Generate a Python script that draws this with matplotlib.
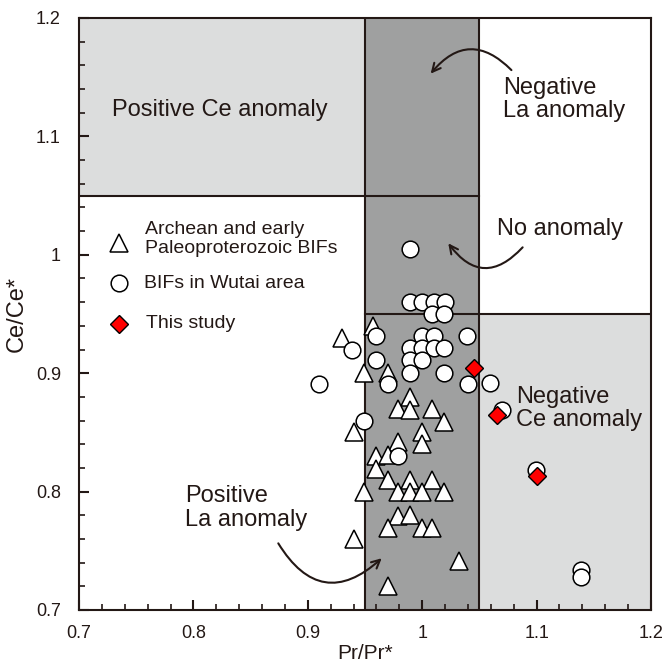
import matplotlib
matplotlib.use("Agg")
import matplotlib.pyplot as plt
from matplotlib.ticker import MultipleLocator

plt.rcParams['font.family'] = ['Liberation Sans', 'DejaVu Sans']

# ---- data ----
tri_x = [0.930, 0.957, 0.949, 0.970, 0.940, 0.940, 0.989, 0.979, 0.989, 1.009,
         1.019, 1.000, 0.979, 1.000, 0.960, 0.970, 0.960, 0.970, 0.989, 1.009,
         0.949, 0.979, 0.989, 1.000, 1.019, 0.979, 0.989, 0.970, 1.000, 1.009,
         1.0325, 0.970]
tri_y = [0.930, 0.940, 0.900, 0.900, 0.850, 0.760, 0.880, 0.870, 0.869, 0.870,
         0.859, 0.850, 0.842, 0.840, 0.830, 0.831, 0.819, 0.810, 0.810, 0.810,
         0.800, 0.800, 0.800, 0.800, 0.800, 0.779, 0.780, 0.769, 0.769, 0.769,
         0.741, 0.720]

circ_x = [0.910, 0.939, 0.960, 0.960, 0.970, 0.949, 0.979, 0.989, 0.989, 1.000,
          1.010, 1.020, 1.009, 1.019, 1.000, 1.010, 0.989, 1.000, 1.010, 1.019,
          0.989, 1.000, 0.989, 1.019, 1.039, 1.040, 1.059, 1.0695, 1.0995, 1.139,
          1.139]
circ_y = [0.891, 0.920, 0.931, 0.911, 0.891, 0.860, 0.830, 1.005, 0.960, 0.960,
          0.960, 0.960, 0.950, 0.950, 0.931, 0.931, 0.921, 0.921, 0.921, 0.921,
          0.911, 0.911, 0.900, 0.900, 0.931, 0.891, 0.892, 0.869, 0.818, 0.734,
          0.728]

dia_x = [1.045, 1.065, 1.100]
dia_y = [0.904, 0.865, 0.813]

legend_labels = ["Archean and early\nPaleoproterozoic BIFs", "BIFs in Wutai area", "This study"]

TXT = '#231815'
LIGHT = '#dcdddd'
DARK = '#9fa0a0'

fig = plt.figure(figsize=(6.66, 6.68), dpi=100)
ax = fig.add_axes([79/666, 58/668, 572/666, 592/668])
ax.set_xlim(0.7, 1.2)
ax.set_ylim(0.7, 1.2)

# regions
ax.fill_between([0.7, 0.95], 1.05, 1.2, color=LIGHT, lw=0, zorder=0)
ax.fill_between([0.95, 1.05], 0.7, 1.2, color=DARK, lw=0, zorder=0)
ax.fill_between([1.05, 1.2], 0.7, 0.95, color=LIGHT, lw=0, zorder=0)
lkw = dict(color=TXT, lw=1.5, zorder=1)
ax.plot([0.7, 1.05], [1.05, 1.05], **lkw)
ax.plot([0.95, 1.2], [0.95, 0.95], **lkw)
ax.plot([0.95, 0.95], [0.7, 1.2], **lkw)
ax.plot([1.05, 1.05], [0.7, 1.2], **lkw)

mk = dict(linestyle='none', markerfacecolor='white', markeredgecolor='black', markeredgewidth=1.1)
ax.plot(tri_x, tri_y, marker='^', markersize=13, zorder=3, **mk)
ax.plot(circ_x, circ_y, marker='o', markersize=12, zorder=4, **mk)
ax.plot(dia_x, dia_y, marker='D', markersize=9, linestyle='none', markerfacecolor='#ff0000',
        markeredgecolor='black', markeredgewidth=1.0, zorder=5)

# legend (manual)
ax.plot([0.735], [1.010], marker='^', markersize=13, zorder=3, **mk)
ax.plot([0.735], [0.976], marker='o', markersize=12, zorder=3, **mk)
ax.plot([0.735], [0.9416], marker='D', markersize=9, linestyle='none', markerfacecolor='#ff0000',
        markeredgecolor='black', markeredgewidth=1.0, zorder=3)
lfs = 14
ax.text(0.758, 1.0135, legend_labels[0], fontsize=lfs, color=TXT, va='center', ha='left', linespacing=1.15)
ax.text(0.757, 0.976, legend_labels[1], fontsize=lfs, color=TXT, va='center', ha='left')
ax.text(0.759, 0.9416, legend_labels[2], fontsize=lfs, color=TXT, va='center', ha='left')

# region labels
fs = 17
ax.text(0.8235, 1.122, "Positive Ce anomaly", fontsize=fs, color=TXT, ha='center', va='center')
ax.text(1.0706, 1.131, "Negative\nLa anomaly", fontsize=fs, color=TXT, ha='left', va='center', linespacing=1.08)
ax.text(1.065, 1.022, "No anomaly", fontsize=fs, color=TXT, ha='left', va='center')
ax.text(1.082, 0.870, "Negative\nCe anomaly", fontsize=fs, color=TXT, ha='left', va='center', linespacing=1.08)
ax.text(0.793, 0.786, "Positive\nLa anomaly", fontsize=fs, color=TXT, ha='left', va='center', linespacing=1.08)

# curved arrows
akw = dict(arrowstyle='->,head_length=0.6,head_width=0.3', color=TXT, lw=1.5, shrinkA=0, shrinkB=0)
ax.annotate("", xy=(1.0074, 1.153), xytext=(1.078, 1.156),
            arrowprops=dict(connectionstyle='arc3,rad=0.55', **akw))
ax.annotate("", xy=(1.0228, 1.0097), xytext=(1.0878, 1.0063),
            arrowprops=dict(connectionstyle='arc3,rad=-0.6', **akw))
ax.annotate("", xy=(0.9646, 0.7437), xytext=(0.8742, 0.7563),
            arrowprops=dict(connectionstyle='arc3,rad=0.6', **akw))

# axes styling
for s in ax.spines.values():
    s.set_color(TXT)
    s.set_linewidth(1.5)
    s.set_zorder(6)
ax.xaxis.set_minor_locator(MultipleLocator(0.02))
ax.yaxis.set_minor_locator(MultipleLocator(0.02))
ax.set_xticks([0.7, 0.8, 0.9, 1.0, 1.1, 1.2])
ax.set_xticklabels(["0.7", "0.8", "0.9", "1", "1.1", "1.2"])
ax.set_yticks([0.7, 0.8, 0.9, 1.0, 1.1, 1.2])
ax.set_yticklabels(["0.7", "0.8", "0.9", "1", "1.1", "1.2"])
ax.tick_params(which='both', direction='in', top=False, right=False, color=TXT, labelcolor=TXT)
ax.tick_params(which='major', length=7, width=1.5, labelsize=13)
ax.tick_params(axis='x', which='major', pad=11)
ax.tick_params(axis='y', which='major', pad=13)
ax.tick_params(which='minor', length=4.5, width=1.2)
ax.set_xlabel("Pr/Pr*", fontsize=15, color=TXT, labelpad=1)
ax.set_ylabel("Ce/Ce*", fontsize=17, color=TXT, labelpad=6)

fig.savefig("out.png", dpi=100)
